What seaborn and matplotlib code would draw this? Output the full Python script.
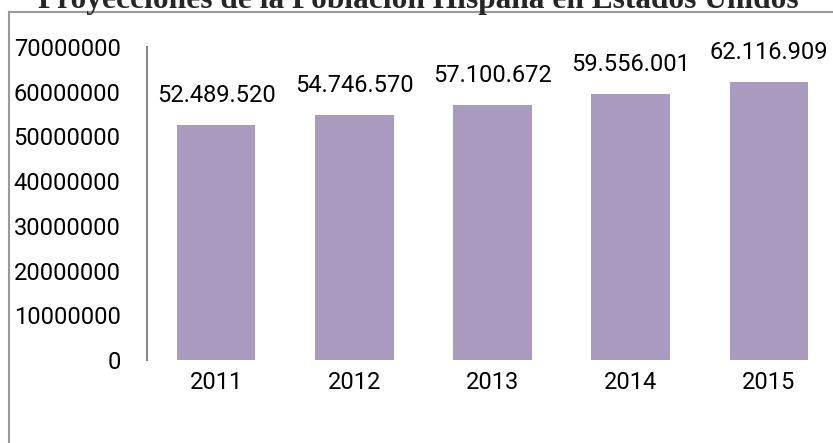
import matplotlib
matplotlib.use("Agg")
import matplotlib.pyplot as plt
import seaborn as sns
import pandas as pd
from matplotlib.patches import Rectangle

years = ["2011", "2012", "2013", "2014", "2015"]
population = [52489520, 54746570, 57100672, 59556001, 62116909]
labels = ["52.489.520", "54.746.570", "57.100.672", "59.556.001", "62.116.909"]
yticks = [0, 10000000, 20000000, 30000000, 40000000, 50000000, 60000000, 70000000]
title = "Proyecciones de la Población Hispana en Estados Unidos"

sns.set_style("white")
plt.rcParams["font.family"] = ["Roboto", "DejaVu Sans"]

df = pd.DataFrame({"year": years, "pop": population})

fig = plt.figure(figsize=(8.33, 4.43), dpi=100)
ax = fig.add_axes([147/833, 1-360/443, (838-147)/833, (360-47)/443])

sns.barplot(data=df, x="year", y="pop", color="#A99BC0", saturation=1,
            width=0.57, ax=ax, edgecolor="none")

ax.set_xlim(-0.5, 4.5)
ax.set_ylim(0, 70000000)
ax.set_yticks(yticks)
ax.set_yticklabels([str(v) for v in yticks])
ax.set_xlabel("")
ax.set_ylabel("")
ax.tick_params(axis="y", length=0, pad=19, labelsize=17, labelcolor="black")
ax.tick_params(axis="x", length=0, pad=8, labelsize=17, labelcolor="black")

for s in ["top", "right", "bottom"]:
    ax.spines[s].set_visible(False)
ax.spines["left"].set_color("#888888")
ax.spines["left"].set_linewidth(1.5)

for i, (v, lab) in enumerate(zip(population, labels)):
    ax.annotate(lab, (i, v), xytext=(0, 13), textcoords="offset points",
                ha="center", va="bottom", fontsize=17, color="black")

# chart border
fig.patches.append(Rectangle((9/833, -0.1), 1.2, (1-12/443)+0.1,
                             transform=fig.transFigure, fill=False,
                             edgecolor="#999999", linewidth=1.5))

fig.text(418/833, 1-8/443, title, ha="center", va="baseline",
         fontsize=22.6, fontweight="bold", family=["Liberation Serif", "DejaVu Serif"])

fig.savefig("out.png", dpi=100)
